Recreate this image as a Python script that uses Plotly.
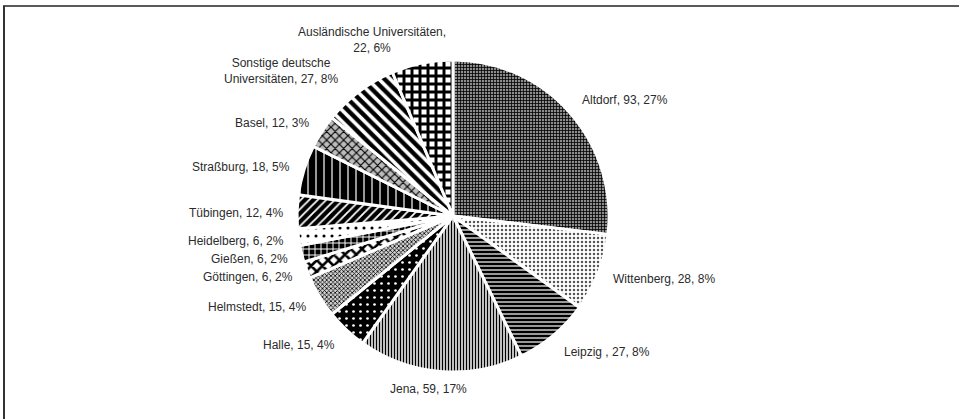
import plotly.graph_objects as go

# Universities, clockwise from 12 o'clock
universities = [
    "Altdorf", "Wittenberg", "Leipzig ", "Jena", "Halle", "Helmstedt",
    "Göttingen", "Gießen", "Heidelberg", "Tübingen", "Straßburg", "Basel",
    "Sonstige deutsche Universitäten", "Ausländische Universitäten",
]
counts = [93, 28, 27, 59, 15, 15, 6, 6, 6, 12, 18, 12, 27, 22]
percent_labels = ["27%", "8%", "8%", "17%", "4%", "4%", "2%", "2%", "2%",
                  "4%", "5%", "3%", "8%", "6%"]

# label anchor points (page pixels, text centre)
label_pos = [
    (625, 100), (664, 279), (607, 352), (428, 389), (299, 345), (257, 307),
    (248, 277), (249, 259), (236, 241), (236, 213), (241, 167), (272, 123),
    (281, 71), (372, 40),
]

# black/white fill patterns, one per slice: (shape, fg, bg, size, solidity)
patterns = [
    ("+", "black", "#8c8c8c", 3, 0.45),   # Altdorf
    (".", "#555555", "white", 4, 0.3),    # Wittenberg
    ("-", "white", "black", 4, 0.3),      # Leipzig
    ("|", "black", "white", 3, 0.5),      # Jena
    (".", "white", "black", 7, 0.12),     # Halle
    ("x", "black", "#d0d0d0", 3, 0.45),   # Helmstedt
    ("x", "black", "white", 8, 0.55),     # Göttingen
    ("+", "white", "black", 6, 0.3),      # Gießen
    (".", "black", "white", 8, 0.12),     # Heidelberg
    ("/", "white", "black", 6, 0.3),      # Tübingen
    ("|", "white", "black", 8, 0.15),     # Straßburg
    ("x", "black", "#bbbbbb", 6, 0.35),   # Basel
    ("\\", "black", "white", 8, 0.55),    # Sonstige
    ("+", "black", "white", 8, 0.6),      # Ausländische
]

W, H = 959, 419
cx, cy, r = 453, 216, 156
FONT = "Liberation Sans, Arial, sans-serif"

fig = go.Figure(
    go.Pie(
        labels=universities,
        values=counts,
        textinfo="none",
        sort=False,
        direction="clockwise",
        rotation=0,
        showlegend=False,
        domain=dict(x=[(cx - r) / W, (cx + r) / W], y=[(H - cy - r) / H, (H - cy + r) / H]),
        marker=dict(
            colors=[p[2] for p in patterns],
            line=dict(color="white", width=3),
            pattern=dict(
                shape=[p[0] for p in patterns],
                fgcolor=[p[1] for p in patterns],
                bgcolor=[p[2] for p in patterns],
                size=[p[3] for p in patterns],
                solidity=[p[4] for p in patterns],
                fillmode="replace",
            ),
        ),
    )
)

# labels: "name, count, percent", the two long names wrapped like the original
for name, c, p, (lx, ly) in zip(universities, counts, percent_labels, label_pos):
    if name == "Sonstige deutsche Universitäten":
        txt = f"Sonstige deutsche<br>Universitäten, {c}, {p}"
    elif name == "Ausländische Universitäten":
        txt = f"Ausländische Universitäten,<br>{c}, {p}"
    else:
        txt = f"{name}, {c}, {p}"
    fig.add_annotation(
        x=lx / W, y=1 - ly / H, xref="paper", yref="paper",
        text=txt, showarrow=False, xanchor="center", yanchor="middle", align="center",
        font=dict(family=FONT, size=12, color="#2b2b2b"),
    )

# frame lines along the top and left edges
fig.add_shape(type="line", xref="paper", yref="paper", x0=3 / W, x1=1, y0=1 - 6 / H, y1=1 - 6 / H,
              line=dict(color="#5a5a5a", width=2))
fig.add_shape(type="line", xref="paper", yref="paper", x0=4 / W, x1=4 / W, y0=0, y1=1 - 6 / H,
              line=dict(color="#333333", width=2))

fig.update_layout(
    width=W,
    height=H,
    margin=dict(l=0, r=0, t=0, b=0),
    paper_bgcolor="white",
    plot_bgcolor="white",
    font=dict(family=FONT, size=12, color="#2b2b2b"),
)

fig.write_html(
    "out.html",
    config={"displayModeBar": False},
    post_script="document.body.style.margin = '0';",
)
